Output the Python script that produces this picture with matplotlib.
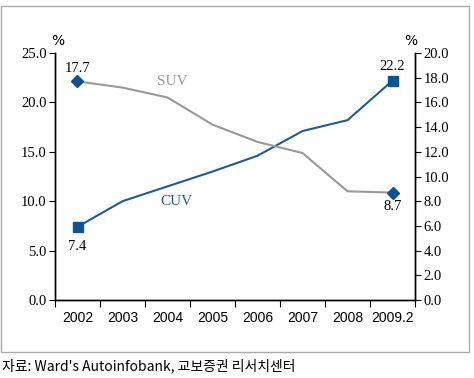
import matplotlib.pyplot as plt
from matplotlib.patches import Rectangle

years = ["2002", "2003", "2004", "2005", "2006", "2007", "2008", "2009.2"]
cuv = [7.4, 10.0, 11.5, 13.0, 14.6, 17.1, 18.2, 22.2]   # left axis
suv = [17.7, 17.2, 16.4, 14.2, 12.8, 11.9, 8.8, 8.7]     # right axis

blue = "#1f5a96"
mark = "#0b5394"
gray = "#999999"
serif = "Liberation Serif"

fig = plt.figure(figsize=(4.74, 3.78), dpi=100)
ax = fig.add_axes([55/474, 78/378, 360/474, 247/378])
ax2 = ax.twinx()

x = list(range(len(years)))
ax.plot(x, cuv, color=blue, lw=1.5, zorder=3)
ax2.plot(x, suv, color=gray, lw=1.5, zorder=2)

# end markers
ax.plot([x[0], x[-1]], [cuv[0], cuv[-1]], ls="none", marker="s", ms=7, color=mark, zorder=4)
ax2.plot([x[0], x[-1]], [suv[0], suv[-1]], ls="none", marker="D", ms=6.5, color=mark, zorder=4)

ax.set_xlim(-0.5, 7.5)
ax.set_ylim(0, 25)
ax2.set_ylim(0, 20)
ax.set_yticks([0, 5, 10, 15, 20, 25])
ax.set_yticklabels([f"{v:.1f}" for v in [0, 5, 10, 15, 20, 25]], family=serif, fontsize=10.5)
ax2.set_yticks(range(0, 21, 2))
ax2.set_yticklabels([f"{v:.1f}" for v in range(0, 21, 2)], family=serif, fontsize=10.5)

ax.set_xticks([i - 0.5 for i in range(9)])
ax.set_xticklabels([])
ax.set_xticks(x, minor=True)
ax.set_xticklabels(years, minor=True, family="Liberation Sans", fontsize=10)
ax.tick_params(axis="x", which="minor", length=0, pad=8)
ax.tick_params(axis="x", which="major", length=5, direction="out")
ax.tick_params(axis="y", length=4, pad=2)
ax2.tick_params(axis="y", length=4, pad=2)

for a in (ax, ax2):
    a.spines["top"].set_visible(False)
    for s in a.spines.values():
        s.set_linewidth(1.0)

# labels
ax.text(x[0], cuv[0] - 1.3, "7.4", ha="center", va="top", family=serif, fontsize=10.5)
ax.text(x[-1], cuv[-1] + 0.8, "22.2", ha="center", va="bottom", family=serif, fontsize=10.5)
ax2.text(x[0], suv[0] + 0.5, "17.7", ha="center", va="bottom", family=serif, fontsize=10.5)
ax2.text(x[-1], suv[-1] - 0.6, "8.7", ha="center", va="top", family=serif, fontsize=10.5)
ax.text(2.2, 10.0, "CUV", color=blue, ha="center", va="center", family=serif, fontsize=11)
ax2.text(2.1, 17.7, "SUV", color=gray, ha="center", va="center", family=serif, fontsize=11)

fig.text(58/474, 1 - 41/378, "%", ha="center", va="center", fontsize=10)
fig.text(411/474, 1 - 41/378, "%", ha="center", va="center", fontsize=10)

# outer frame
fig.patches.append(Rectangle((0.002, 26/378), 468/474, 346/378, transform=fig.transFigure,
                             fill=False, edgecolor="#aaaaaa", lw=1.0))

fig.text(2/474, 1 - 366/378, "자료: Ward's Autoinfobank, 교보증권 리서치센터",
         family=["Noto Sans CJK KR", "DejaVu Sans"], fontsize=10, va="center", ha="left")

fig.savefig("out.png", dpi=100)
